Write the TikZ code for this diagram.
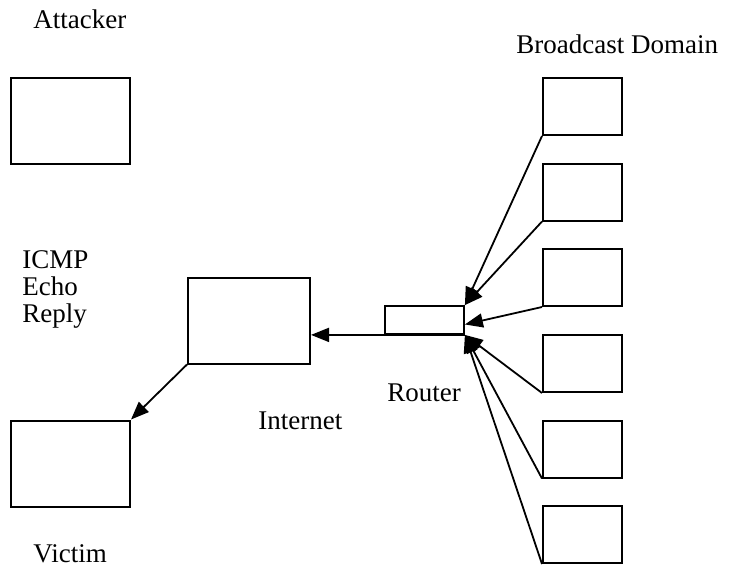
\documentclass[tikz,border=0pt]{standalone}
\usepackage{fontspec}
\setmainfont{Liberation Serif}
\usetikzlibrary{arrows.meta, calc}

\begin{document}
\begin{tikzpicture}[x=0.5pt, y=-0.5pt,
    every node/.style={font=\fontsize{13.5}{13.5}\selectfont},
    host/.style={draw, line width=1pt, inner sep=0pt, minimum width=59.5pt, minimum height=43pt},
    member/.style={draw, line width=1pt, inner sep=0pt, minimum width=39.5pt, minimum height=28.5pt},
    lbl/.style={inner sep=0pt, anchor=base west},
    arr/.style={-{Triangle[length=9pt, width=7pt]}, line width=0.9pt}]

                \useasboundingbox (0,0) rectangle (730,569);

                \node[host] (attacker) at (70.5,121) {};
                \node[host] (victim) at (70.5,463.5) {};
                \node[host, minimum width=61pt] (internet) at (249,320.5) {};
                \node[draw, line width=0.9pt, inner sep=0pt, minimum width=39.5pt, minimum height=14pt] (router) at (424.5,320) {};

                \foreach \i/\y in {1/106.5, 2/192, 3/277.5, 4/363.5, 5/449, 6/534.5}
                    \node[member] (dom\i) at (582.5,\y) {};

                \node[lbl] (attackerlbl) at (33,28) {Attacker};
                \node[lbl] (domainlbl) at (516,53) {Broadcast Domain};
                \node[lbl, align=left] (icmplbl) at (22,322) {ICMP\\Echo\\Reply};
                \node[lbl] (routerlbl) at (387,401) {Router};
                \node[lbl] (internetlbl) at (258,429) {Internet};
                \node[lbl] (victimlbl) at (33,562) {Victim};

                \coordinate (mid) at ($(router.north east)!0.65!(router.south east)$);

                \draw [arr] (dom1.south west) -- (router.north east);
                \draw [arr] (dom2.south west) -- (router.north east);
                \draw [arr] (dom3.south west) -- (mid);
                \foreach \i in {4,5,6}
                    \draw [arr] (dom\i.south west) -- (router.south east);

                \draw [arr] (router.south east) -- (router.south east -| internet.east);
                \draw [arr] (internet.south west) -- (victim.north east);

            \end{tikzpicture}
\end{document}
